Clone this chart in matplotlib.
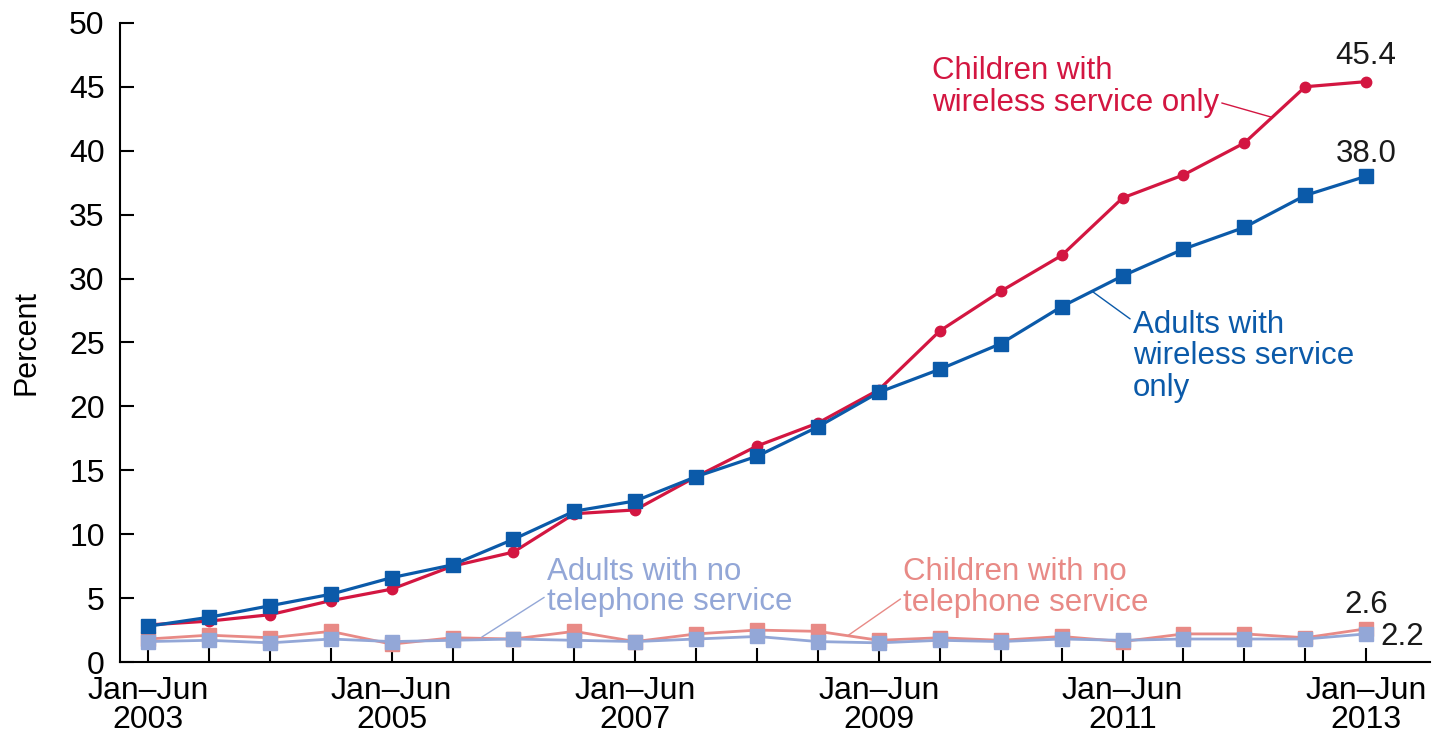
import numpy as np
import matplotlib
matplotlib.use("Agg")
import matplotlib.pyplot as plt

plt.rcParams['font.family'] = ['Liberation Sans', 'DejaVu Sans']

# half-year periods, Jan-Jun 2003 .. Jan-Jun 2013
periods = ["Jan\u2013Jun\n2003", "", "", "", "Jan\u2013Jun\n2005", "", "", "",
           "Jan\u2013Jun\n2007", "", "", "", "Jan\u2013Jun\n2009", "", "", "",
           "Jan\u2013Jun\n2011", "", "", "", "Jan\u2013Jun\n2013"]

children_wireless = [2.9, 3.2, 3.7, 4.8, 5.7, 7.5, 8.6, 11.6, 11.9, 14.5, 16.9,
                     18.7, 21.3, 25.9, 29.0, 31.8, 36.3, 38.1, 40.6, 45.0, 45.4]
adults_wireless = [2.8, 3.5, 4.4, 5.3, 6.6, 7.6, 9.6, 11.8, 12.6, 14.5, 16.1,
                   18.4, 21.1, 22.9, 24.9, 27.8, 30.2, 32.3, 34.0, 36.5, 38.0]
children_nophone = [1.8, 2.1, 1.9, 2.4, 1.4, 1.9, 1.8, 2.4, 1.6, 2.2, 2.5,
                    2.4, 1.7, 1.9, 1.7, 2.0, 1.6, 2.2, 2.2, 1.9, 2.6]
adults_nophone = [1.6, 1.7, 1.5, 1.8, 1.6, 1.7, 1.8, 1.7, 1.6, 1.8, 2.0,
                  1.6, 1.5, 1.7, 1.6, 1.8, 1.7, 1.8, 1.8, 1.8, 2.2]

RED = '#d31641'
BLUE = '#0b5aa9'
LRED = '#e88a86'
LBLUE = '#93a7d7'

x = np.arange(len(periods))

fig = plt.figure(figsize=(14.35, 7.36), dpi=100)
ax = fig.add_axes([0.0836, 0.1005, 0.913, 0.8685])

ax.plot(x, children_nophone, color=LRED, lw=2.0, marker='s', ms=9.5, mec=LRED)
ax.plot(x, adults_nophone, color=LBLUE, lw=2.0, marker='s', ms=9.5, mec=LBLUE)
ax.plot(x, children_wireless, color=RED, lw=2.3, marker='o', ms=7.5, mec=RED)
ax.plot(x, adults_wireless, color=BLUE, lw=2.3, marker='s', ms=10, mec=BLUE)

ax.set_xlim(-0.46, 21.05)
ax.set_ylim(0, 50)
ax.set_yticks(range(0, 51, 5))
ax.set_xticks(x)
ax.set_xticklabels(periods, linespacing=0.95)
ax.tick_params(axis='both', direction='in', length=10, width=1.5, labelsize=23)
ax.tick_params(axis='y', pad=11)
ax.tick_params(axis='x', pad=10)
for s in ['top', 'right']:
    ax.spines[s].set_visible(False)
ax.spines['left'].set_linewidth(1.5)
ax.spines['bottom'].set_linewidth(1.5)
ax.set_ylabel("Percent", fontsize=22, labelpad=20)

fs = 22.5
ls = 1.08
ax.annotate("Children with\nwireless service only", xy=(18.46, 42.6),
            xytext=(12.87, 45.0), textcoords='data', color=RED, fontsize=fs,
            ha='left', va='center', linespacing=ls,
            arrowprops=dict(arrowstyle='-', color=RED, lw=1, shrinkA=0, shrinkB=0,
                            relpos=(1.0, 0.25)))
ax.annotate("Adults with\nwireless service\nonly", xy=(15.5, 29.0),
            xytext=(16.17, 23.9), textcoords='data', color=BLUE, fontsize=fs,
            ha='left', va='center', linespacing=ls,
            arrowprops=dict(arrowstyle='-', color=BLUE, lw=1, shrinkA=0, shrinkB=0,
                            relpos=(0.0, 0.88)))
ax.annotate("Adults with no\ntelephone service", xy=(5.48, 1.95),
            xytext=(6.55, 5.9), textcoords='data', color=LBLUE, fontsize=fs,
            ha='left', va='center', linespacing=1.0,
            arrowprops=dict(arrowstyle='-', color=LBLUE, lw=1, shrinkA=0, shrinkB=0,
                            relpos=(0.0, 0.35)))
ax.annotate("Children with no\ntelephone service", xy=(11.5, 2.1),
            xytext=(12.4, 5.8), textcoords='data', color=LRED, fontsize=fs,
            ha='left', va='center', linespacing=1.05,
            arrowprops=dict(arrowstyle='-', color=LRED, lw=1, shrinkA=0, shrinkB=0,
                            relpos=(0.0, 0.35)))

ax.annotate(f"{children_wireless[-1]:.1f}", xy=(x[-1], children_wireless[-1]),
            xytext=(0, 7.5), textcoords='offset points', ha='center', va='bottom',
            fontsize=fs, color='#1a1a1a')
ax.annotate(f"{adults_wireless[-1]:.1f}", xy=(x[-1], adults_wireless[-1]),
            xytext=(0, 5), textcoords='offset points', ha='center', va='bottom',
            fontsize=fs, color='#1a1a1a')
ax.annotate(f"{children_nophone[-1]:.1f}", xy=(x[-1], children_nophone[-1]),
            xytext=(0, 6), textcoords='offset points', ha='center', va='bottom',
            fontsize=fs, color='#1a1a1a')
ax.annotate(f"{adults_nophone[-1]:.1f}", xy=(x[-1], adults_nophone[-1]),
            xytext=(10, -2), textcoords='offset points', ha='left', va='center',
            fontsize=fs, color='#1a1a1a')

fig.savefig("out.png", dpi=100)
